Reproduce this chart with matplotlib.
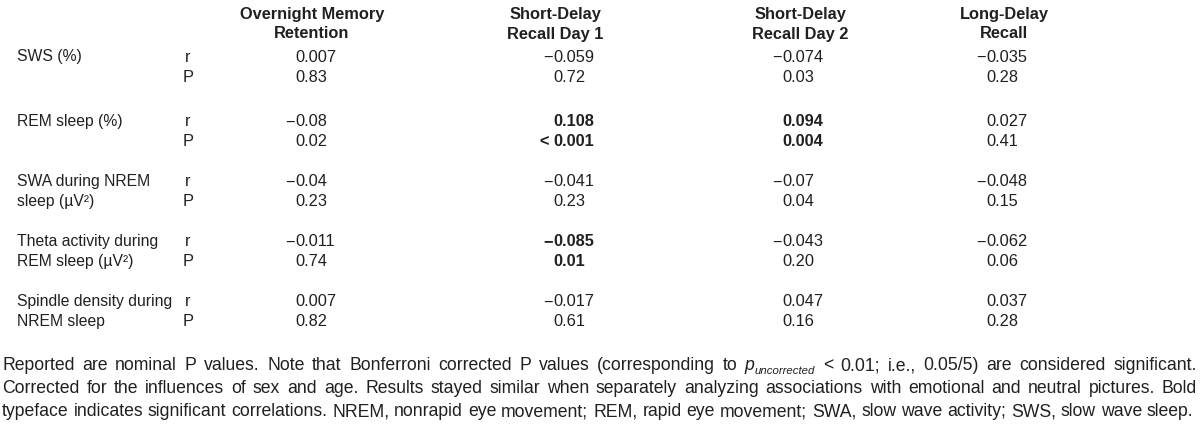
import matplotlib
matplotlib.use("Agg")
import matplotlib.pyplot as plt
from matplotlib import font_manager

# Table content
columns = ["Overnight Memory\nRetention", "Short-Delay\nRecall Day 1",
           "Short-Delay\nRecall Day 2", "Long-Delay\nRecall"]
row_labels = ["SWS (%)", "REM sleep (%)", "SWA during NREM\nsleep (µV²)",
              "Theta activity during\nREM sleep (µV²)", "Spindle density during\nNREM sleep"]
r_values = [["0.007", "−0.059", "−0.074", "−0.035"],
            ["−0.08", "0.108", "0.094", "0.027"],
            ["−0.04", "−0.041", "−0.07", "−0.048"],
            ["−0.011", "−0.085", "−0.043", "−0.062"],
            ["0.007", "−0.017", "0.047", "0.037"]]
p_values = [["0.83", "0.72", "0.03", "0.28"],
            ["0.02", "< 0.001", "0.004", "0.41"],
            ["0.23", "0.23", "0.04", "0.15"],
            ["0.74", "0.01", "0.20", "0.06"],
            ["0.82", "0.61", "0.16", "0.28"]]
# (row, column) pairs printed in bold
bold_cells = [(1, 1), (1, 2), (3, 1)]

footnote = [
    "Reported are nominal P values. Note that Bonferroni corrected P values (corresponding to "
    "{p} < 0.01; i.e., 0.05/5) are considered significant.",
    "Corrected for the influences of sex and age. Results stayed similar when separately "
    "analyzing associations with emotional and neutral pictures. Bold",
    "typeface indicates significant correlations. NREM, nonrapid eye movement; REM, rapid eye "
    "movement; SWA, slow wave activity; SWS, slow wave sleep.",
]

names = {f.name for f in font_manager.fontManager.ttflist}
FONT = ["Liberation Sans Narrow"] if "Liberation Sans Narrow" in names else ["Liberation Sans"]
FONT = FONT + ["DejaVu Sans"]
plt.rcParams["font.family"] = FONT

W, H = 1200, 439
fig = plt.figure(figsize=(W / 100, H / 100), dpi=100)
ax = fig.add_axes([0, 0, 1, 1])
ax.set_xlim(0, W)
ax.set_ylim(H, 0)
ax.axis("off")

FS = 11.8
FS_LABEL = 11.3
color = "#231f20"

col_center = [312, 555, 800, 1004]   # header centres
col_zero = [295, 553, 782, 986]      # where the leading "0." starts
label_x, rp_x = 17, 188
header_y = [14, 34]
group_y = [57, 122, 182, 242, 302]
row_gap = 20

for c, name in enumerate(columns):
    for k, line in enumerate(name.split("\n")):
        ax.text(col_center[c], header_y[k], line, ha="center", va="center",
                fontsize=FS, fontweight="bold", color=color)


def put_value(x0, y, s, bold):
    w = "bold" if bold else "normal"
    i = s.index("0.")
    pre, rest = s[:i], s[i:]
    ax.text(x0, y, rest, ha="left", va="center", fontsize=FS, fontweight=w, color=color)
    if pre.strip():
        ax.text(x0 - (4 if pre.endswith(" ") else 0), y, pre.strip(), ha="right", va="center",
                fontsize=FS, fontweight=w, color=color)


for r, lab in enumerate(row_labels):
    y0 = group_y[r]
    for k, line in enumerate(lab.split("\n")):
        ax.text(label_x, y0 + k * row_gap, line, ha="left", va="center",
                fontsize=FS_LABEL, color=color)
    ax.text(rp_x, y0, "r", ha="center", va="center", fontsize=FS, color=color)
    ax.text(rp_x, y0 + row_gap, "P", ha="center", va="center", fontsize=FS, color=color)
    for c in range(len(columns)):
        b = (r, c) in bold_cells
        put_value(col_zero[c], y0, r_values[r][c], b)
        put_value(col_zero[c], y0 + row_gap, p_values[r][c], b)

# Footnote, justified on the first two lines
fig.canvas.draw()
renderer = fig.canvas.get_renderer()
inv = ax.transData.inverted()


def width_of(t):
    bb = t.get_window_extent(renderer)
    a = inv.transform((bb.x0, bb.y0))
    b = inv.transform((bb.x1, bb.y0))
    return b[0] - a[0]


note_left, note_right = 2, 1197
note_y = [366, 389, 412]

# pick the footnote size so that the last (unjustified) line nearly fills the width
probe = ax.text(0, -50, footnote[-1], fontsize=10)
FS_NOTE = 10 * (note_right - note_left - 4) / width_of(probe)
probe.remove()

space_t = ax.text(0, -50, "a a", fontsize=FS_NOTE)
aa_t = ax.text(0, -50, "aa", fontsize=FS_NOTE)
space_w = width_of(space_t) - width_of(aa_t)
space_t.remove()
aa_t.remove()

for li, line in enumerate(footnote):
    items = []
    for wd in line.split(" "):
        if wd == "{p}":
            t1 = ax.text(0, note_y[li], "p", ha="left", va="center", fontsize=FS_NOTE,
                         style="italic", color=color)
            t2 = ax.text(0, note_y[li] + 5, "uncorrected", ha="left", va="center",
                         fontsize=FS_NOTE * 0.65, style="italic", color=color)
            items.append([t1, t2])
        else:
            items.append([ax.text(0, note_y[li], wd, ha="left", va="center",
                                  fontsize=FS_NOTE, color=color)])
    widths = [sum(width_of(t) for t in grp) for grp in items]
    if li < len(footnote) - 1:
        gap = (note_right - note_left - sum(widths)) / (len(items) - 1)
    else:
        gap = space_w
    x = note_left
    for grp, w in zip(items, widths):
        xx = x
        for t in grp:
            t.set_x(xx)
            xx += width_of(t)
        x += w + gap

fig.savefig("out.png", dpi=100)
